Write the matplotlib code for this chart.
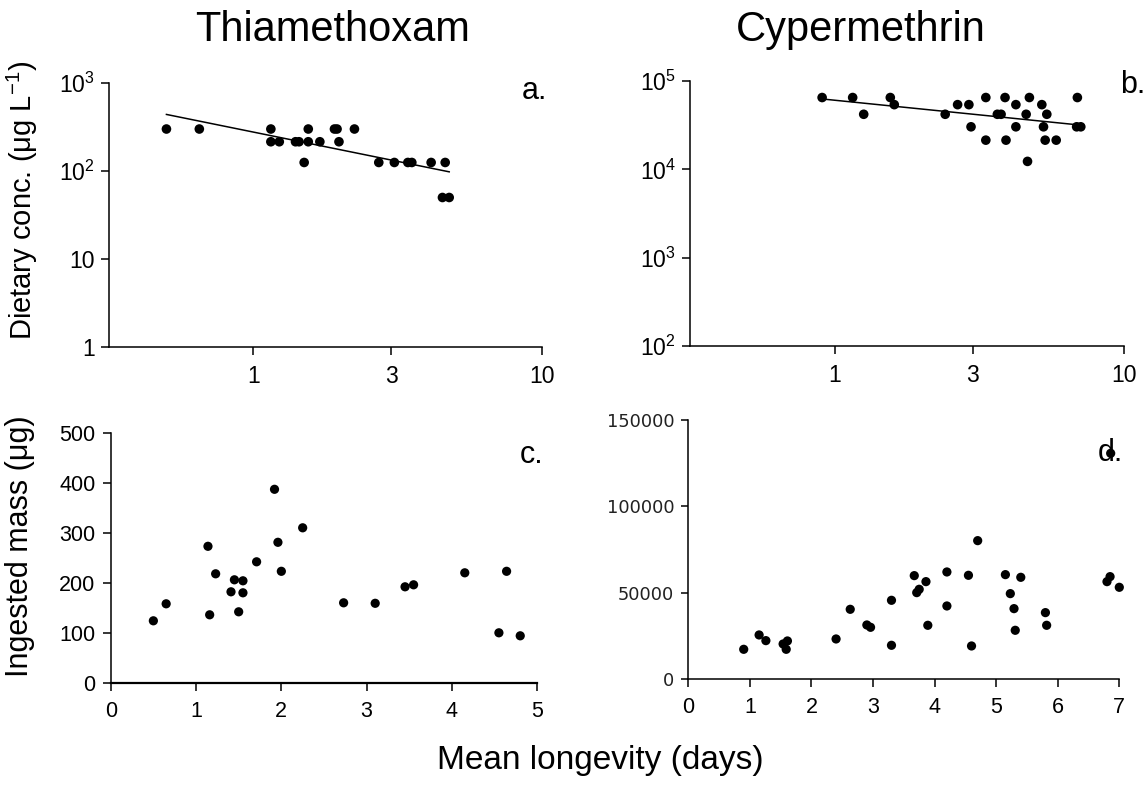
import numpy as np
import matplotlib
matplotlib.use('Agg')
import matplotlib.pyplot as plt

plt.rcParams['font.family'] = ['Liberation Sans', 'DejaVu Sans']
plt.rcParams['mathtext.fontset'] = 'custom'
plt.rcParams['mathtext.rm'] = 'Liberation Sans'
plt.rcParams['mathtext.it'] = 'Liberation Sans:italic'
plt.rcParams['mathtext.default'] = 'regular'

# a. thiamethoxam dietary concentration vs mean longevity
thia_conc_days = [0.50, 0.65, 1.15, 1.15, 1.23, 1.40, 1.44, 1.50, 1.55, 1.55, 1.70, 1.91,
                  1.95, 1.98, 2.24, 2.72, 3.08, 3.43, 3.54, 4.13, 4.62, 4.52, 4.77]
thia_conc = [300, 300, 300, 215, 215, 215, 215, 125, 300, 215, 215, 300,
             300, 215, 300, 125, 125, 125, 125, 125, 125, 50, 50]

# b. cypermethrin dietary concentration vs mean longevity
cyp_conc_days = [0.905, 1.154, 1.26, 1.557, 1.607, 2.41, 2.66, 2.91, 2.96, 3.33, 3.33, 3.65,
                 3.76, 3.88, 3.91, 4.23, 4.23, 4.59, 4.64, 4.71, 5.20, 5.27, 5.34, 5.41,
                 5.83, 6.90, 6.86, 7.09]
cyp_conc = [65000, 65000, 42000, 65000, 54000, 42000, 54000, 54000, 30300, 65000, 21400, 42000,
            42000, 65000, 21400, 54000, 30300, 42000, 12300, 65000, 54000, 30300, 21400, 42000,
            21400, 65000, 30300, 30300]

# c. thiamethoxam ingested mass
thia_mass_days = [0.50, 0.65, 1.14, 1.16, 1.23, 1.41, 1.45, 1.50, 1.55, 1.55, 1.71, 1.92,
                  1.96, 2.00, 2.25, 2.73, 3.10, 3.45, 3.55, 4.15, 4.55, 4.64, 4.80]
thia_mass = [125, 159, 274, 137, 219, 183, 207, 143, 205, 181, 243, 388,
             282, 224, 311, 161, 160, 193, 197, 221, 101, 224, 95]

# d. cypermethrin ingested mass
cyp_mass_days = [0.90, 1.15, 1.26, 1.54, 1.61, 1.59, 2.40, 2.63, 2.90, 2.96, 3.30, 3.30,
                 3.67, 3.71, 3.75, 3.86, 3.89, 4.20, 4.20, 4.55, 4.60, 4.70, 5.15, 5.23,
                 5.29, 5.31, 5.40, 5.80, 5.82, 6.80, 6.85, 7.00, 6.86]
cyp_mass = [17350, 25650, 22370, 20440, 22180, 17350, 23330, 40490, 31430, 30080, 45700, 19670,
            59970, 50140, 52070, 56500, 31240, 62090, 42420, 60160, 19280, 80210, 60550, 49560,
            40880, 28350, 59000, 38570, 31240, 56500, 59390, 53220, 130730]

W, H = 1147, 785
fig = plt.figure(figsize=(W / 100, H / 100), dpi=100)


def box(l, t, r, b):
    return [l / W, 1 - b / H, (r - l) / W, (b - t) / H]


def style(ax, size=16.5, pad=7):
    for s in ['top', 'right']:
        ax.spines[s].set_visible(False)
    for s in ['left', 'bottom']:
        ax.spines[s].set_linewidth(1.1)
    ax.tick_params(which='major', direction='out', length=6, width=1.1,
                   labelsize=size, pad=pad)
    ax.tick_params(which='minor', length=0)


def loglog_fit(ax, x, y):
    lx, ly = np.log10(x), np.log10(y)
    k, c = np.polyfit(lx, ly, 1)
    xs = np.array([min(x), max(x)])
    ax.plot(xs, 10 ** (c + k * np.log10(xs)), color='black', lw=1.1)


dot = dict(s=48, color='black', edgecolors='none', clip_on=False, zorder=3)

# a
ax1 = fig.add_axes(box(109, 83, 542, 347))
ax1.set_xscale('log'); ax1.set_yscale('log')
ax1.scatter(thia_conc_days, thia_conc, **dot)
loglog_fit(ax1, thia_conc_days, thia_conc)
ax1.set_xlim(10 ** -0.5, 10); ax1.set_ylim(1, 1000)
ax1.set_xticks([1, 3, 10], ['1', '3', '10'])
ax1.set_yticks([1, 10, 100, 1000], ['1', '10', '$10^{2}$', '$10^{3}$'])
style(ax1)
ax1.tick_params(axis='y', pad=4)

# b
ax2 = fig.add_axes(box(690, 81, 1124, 346))
ax2.set_xscale('log'); ax2.set_yscale('log')
ax2.scatter(cyp_conc_days, cyp_conc, **dot)
loglog_fit(ax2, cyp_conc_days, cyp_conc)
ax2.set_xlim(10 ** -0.5, 10); ax2.set_ylim(100, 1e5)
ax2.set_xticks([1, 3, 10], ['1', '3', '10'])
ax2.set_yticks([1e2, 1e3, 1e4, 1e5], ['$10^{2}$', '$10^{3}$', '$10^{4}$', '$10^{5}$'])
style(ax2)
ax2.tick_params(axis='y', pad=4)

# c
ax3 = fig.add_axes(box(110.7, 433.3, 537.3, 683.3))
ax3.scatter(thia_mass_days, thia_mass, s=44, color='black', edgecolors='none', zorder=3)
ax3.set_xlim(0, 5); ax3.set_ylim(0, 500)
ax3.set_xticks(range(6)); ax3.set_yticks(range(0, 501, 100))
style(ax3, 15.5)
ax3.tick_params(axis='y', pad=5)
ax3.spines['bottom'].set_linewidth(1.6)

# d
ax4 = fig.add_axes(box(688.3, 420, 1119.3, 679.3))
ax4.scatter(cyp_mass_days, cyp_mass, s=44, color='black', edgecolors='none', zorder=3, clip_on=False)
ax4.set_xlim(0, 7); ax4.set_ylim(0, 150000)
ax4.set_xticks(range(8)); ax4.set_yticks([0, 50000, 100000, 150000])
style(ax4, 15.5)
ax4.tick_params(axis='y', labelsize=12.8, length=5, pad=5)
for lab in ax4.get_yticklabels():
    lab.set_fontfamily('DejaVu Sans')
    lab.set_color('#222222')

# panel letters
for txt, x, y in [('a.', 522, 91), ('b.', 1120, 85), ('c.', 520, 455), ('d.', 1098, 453)]:
    fig.text(x / W, 1 - y / H, txt, fontsize=22, ha='left', va='center')

fig.text(333 / W, 1 - 30 / H, 'Thiamethoxam', fontsize=30, ha='center', va='center')
fig.text(861 / W, 1 - 30 / H, 'Cypermethrin', fontsize=30, ha='center', va='center')
fig.text(22 / W, 1 - 200 / H, 'Dietary conc. (μg L$^{-1}$)', fontsize=21,
         rotation=90, ha='center', va='center')
fig.text(20 / W, 1 - 546 / H, 'Ingested mass (μg)', fontsize=22,
         rotation=90, ha='center', va='center')
fig.text(600 / W, 1 - 760 / H, 'Mean longevity (days)', fontsize=24, ha='center', va='center')

fig.savefig('out.png', dpi=100)
